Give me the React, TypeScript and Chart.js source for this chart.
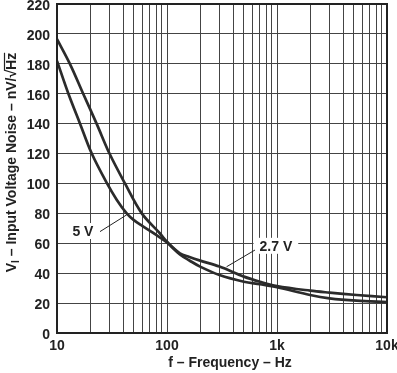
import React, { useEffect, useRef } from "react";
import { Chart, registerables } from "chart.js";

Chart.register(...registerables);

// ---- data ----
const FREQ_2V7 = [10, 13.1, 17.3, 22.9, 30, 41.5, 59, 86, 100, 131, 160, 200, 300, 500, 700, 1000, 2000, 3000, 5300, 10000];
const NOISE_2V7 = [196.5, 180, 160, 140, 120, 100, 80, 66.7, 61, 53.3, 50.8, 48.4, 44.4, 37.7, 34.3, 31.4, 28.3, 27, 25.4, 23.9];
const FREQ_5V = [10, 12.7, 16.2, 20.7, 28.5, 35, 43, 50, 60, 86, 100, 131, 160, 200, 300, 500, 700, 1000, 2000, 3000, 5300, 10000];
const NOISE_5V = [182, 160, 140, 120, 100, 89, 80, 75.5, 71.5, 64, 60.5, 52.5, 48.5, 44.4, 38.8, 34.3, 32.6, 30.6, 25.4, 23.2, 21.6, 20.7];

const X_MAJOR = [10, 100, 1000, 10000];
const X_MAJOR_LABELS = ["10", "100", "1k", "10k"];
const Y_MIN = 0;
const Y_MAX = 220;
const Y_STEP = 20;

// labels: text centre, leader start, leader end (data coords)
const LABEL_TEXTS = ["5 V", "2.7 V"];
const LABEL_AT = [
  { f: 17.2, v: 68.2 },
  { f: 977, v: 58.3 },
];
const LEADER_FROM = [
  { f: 24.6, v: 67.8 },
  { f: 631, v: 55.5 },
];
const LEADER_TO = [
  { f: 43, v: 79 },
  { f: 348, v: 44.3 },
];

const FONT_FAMILY = '"Liberation Sans", Arial, Helvetica, sans-serif';
const INK = "#222";
const CURVE = "#2b2b2b";

const overlayPlugin = {
  id: "overlay",
  afterDraw(chart: any) {
    const { ctx, chartArea, scales } = chart;
    const xs = scales.x;
    const ys = scales.y;
    ctx.save();
    // frame
    ctx.strokeStyle = INK;
    ctx.lineWidth = 2;
    ctx.strokeRect(chartArea.left, chartArea.top, chartArea.right - chartArea.left, chartArea.bottom - chartArea.top);

    // curve labels
    ctx.font = `bold 14px ${FONT_FAMILY}`;
    ctx.textAlign = "center";
    ctx.textBaseline = "middle";
    LABEL_TEXTS.forEach((t, i) => {
      const cx = xs.getPixelForValue(LABEL_AT[i].f);
      const cy = ys.getPixelForValue(LABEL_AT[i].v);
      const w = ctx.measureText(t).width;
      ctx.fillStyle = "#fff";
      ctx.fillRect(cx - w / 2 - 6, cy - 8, w + 12, 16);
      ctx.fillStyle = INK;
      ctx.fillText(t, cx, cy + 1);
      ctx.strokeStyle = INK;
      ctx.lineWidth = 1;
      ctx.beginPath();
      ctx.moveTo(xs.getPixelForValue(LEADER_FROM[i].f), ys.getPixelForValue(LEADER_FROM[i].v));
      ctx.lineTo(xs.getPixelForValue(LEADER_TO[i].f), ys.getPixelForValue(LEADER_TO[i].v));
      ctx.stroke();
    });

    // x title
    ctx.fillStyle = INK;
    ctx.font = `bold 14px ${FONT_FAMILY}`;
    ctx.textAlign = "center";
    ctx.textBaseline = "middle";
    ctx.fillText("f \u2013 Frequency \u2013 Hz", 230, 363);

    // y title with subscript and radical overline
    const main = `bold 14px ${FONT_FAMILY}`;
    const sub = `bold 10px ${FONT_FAMILY}`;
    const parts = [
      { t: "V", f: main, dy: 0 },
      { t: "I", f: sub, dy: 3 },
      { t: " \u2013 Input Voltage Noise \u2013 nV/", f: main, dy: 0 },
      { t: "\u221A", f: main, dy: 0 },
      { t: "Hz", f: main, dy: 0, over: true },
    ];
    let total = 0;
    const widths = parts.map((p) => {
      ctx.font = p.f;
      const w = ctx.measureText(p.t).width;
      total += w;
      return w;
    });
    const centerY = 162.5;
    ctx.translate(16, centerY);
    ctx.rotate(-Math.PI / 2);
    ctx.textAlign = "left";
    ctx.textBaseline = "alphabetic";
    let x = -total / 2;
    parts.forEach((p: any, i) => {
      ctx.font = p.f;
      ctx.fillText(p.t, x, p.dy);
      if (p.over) {
        ctx.lineWidth = 1.2;
        ctx.beginPath();
        ctx.moveTo(x - 1, -11.5);
        ctx.lineTo(x + widths[i], -11.5);
        ctx.stroke();
      }
      x += widths[i];
    });
    ctx.restore();
  },
};

export default function App() {
  const ref = useRef<HTMLCanvasElement | null>(null);
  useEffect(() => {
    if (!ref.current) return;
    const mk = (fs: number[], ys: number[]) => fs.map((f, i) => ({ x: f, y: ys[i] }));
    const chart = new Chart(ref.current, {
      type: "line",
      data: {
        datasets: [
          {
            label: "2.7 V",
            data: mk(FREQ_2V7, NOISE_2V7),
            borderColor: CURVE,
            borderWidth: 2.7,
            pointRadius: 0,
            tension: 0.35,
            fill: false,
          },
          {
            label: "5 V",
            data: mk(FREQ_5V, NOISE_5V),
            borderColor: CURVE,
            borderWidth: 2.7,
            pointRadius: 0,
            tension: 0.35,
            fill: false,
          },
        ],
      },
      options: {
        responsive: false,
        animation: false,
        layout: { padding: { top: 4, right: 10, left: 0, bottom: 0 } },
        plugins: { legend: { display: false }, tooltip: { enabled: false }, title: { display: false } },
        scales: {
          x: {
            type: "logarithmic",
            min: X_MAJOR[0],
            max: X_MAJOR[X_MAJOR.length - 1],
            afterBuildTicks: (scale: any) => {
              const t: any[] = [];
              for (let d = 0; d < X_MAJOR.length - 1; d++) {
                for (let m = 1; m <= 9; m++) t.push({ value: X_MAJOR[d] * m });
              }
              t.push({ value: X_MAJOR[X_MAJOR.length - 1] });
              scale.ticks = t;
            },
            afterFit: (scale: any) => {
              scale.height = 40;
              scale.paddingLeft = 0;
              scale.paddingRight = 0;
            },
            ticks: {
              autoSkip: false,
              maxRotation: 0,
              padding: 5,
              color: INK,
              font: { family: FONT_FAMILY, size: 14, weight: "bold" },
              callback: (value: any) => {
                const i = X_MAJOR.indexOf(Number(value));
                return i >= 0 ? X_MAJOR_LABELS[i] : "";
              },
            },
            grid: { color: "#444", lineWidth: 1, drawTicks: false },
            border: { display: false },
          },
          y: {
            type: "linear",
            min: Y_MIN,
            max: Y_MAX,
            afterFit: (scale: any) => {
              scale.width = 57;
              scale.paddingTop = 0;
              scale.paddingBottom = 0;
            },
            ticks: {
              stepSize: Y_STEP,
              padding: 7,
              labelOffset: 2,
              color: INK,
              font: { family: FONT_FAMILY, size: 14, weight: "bold" },
            },
            grid: { color: "#444", lineWidth: 1, drawTicks: false },
            border: { display: false },
          },
        },
      } as any,
      plugins: [overlayPlugin],
    });
    return () => chart.destroy();
  }, []);
  return (
    <div style={{ position: "absolute", left: 0, top: 0, width: 397, height: 373, background: "#fff" }}>
      <canvas ref={ref} width={397} height={373} style={{ width: 397, height: 373, display: "block" }} />
    </div>
  );
}
